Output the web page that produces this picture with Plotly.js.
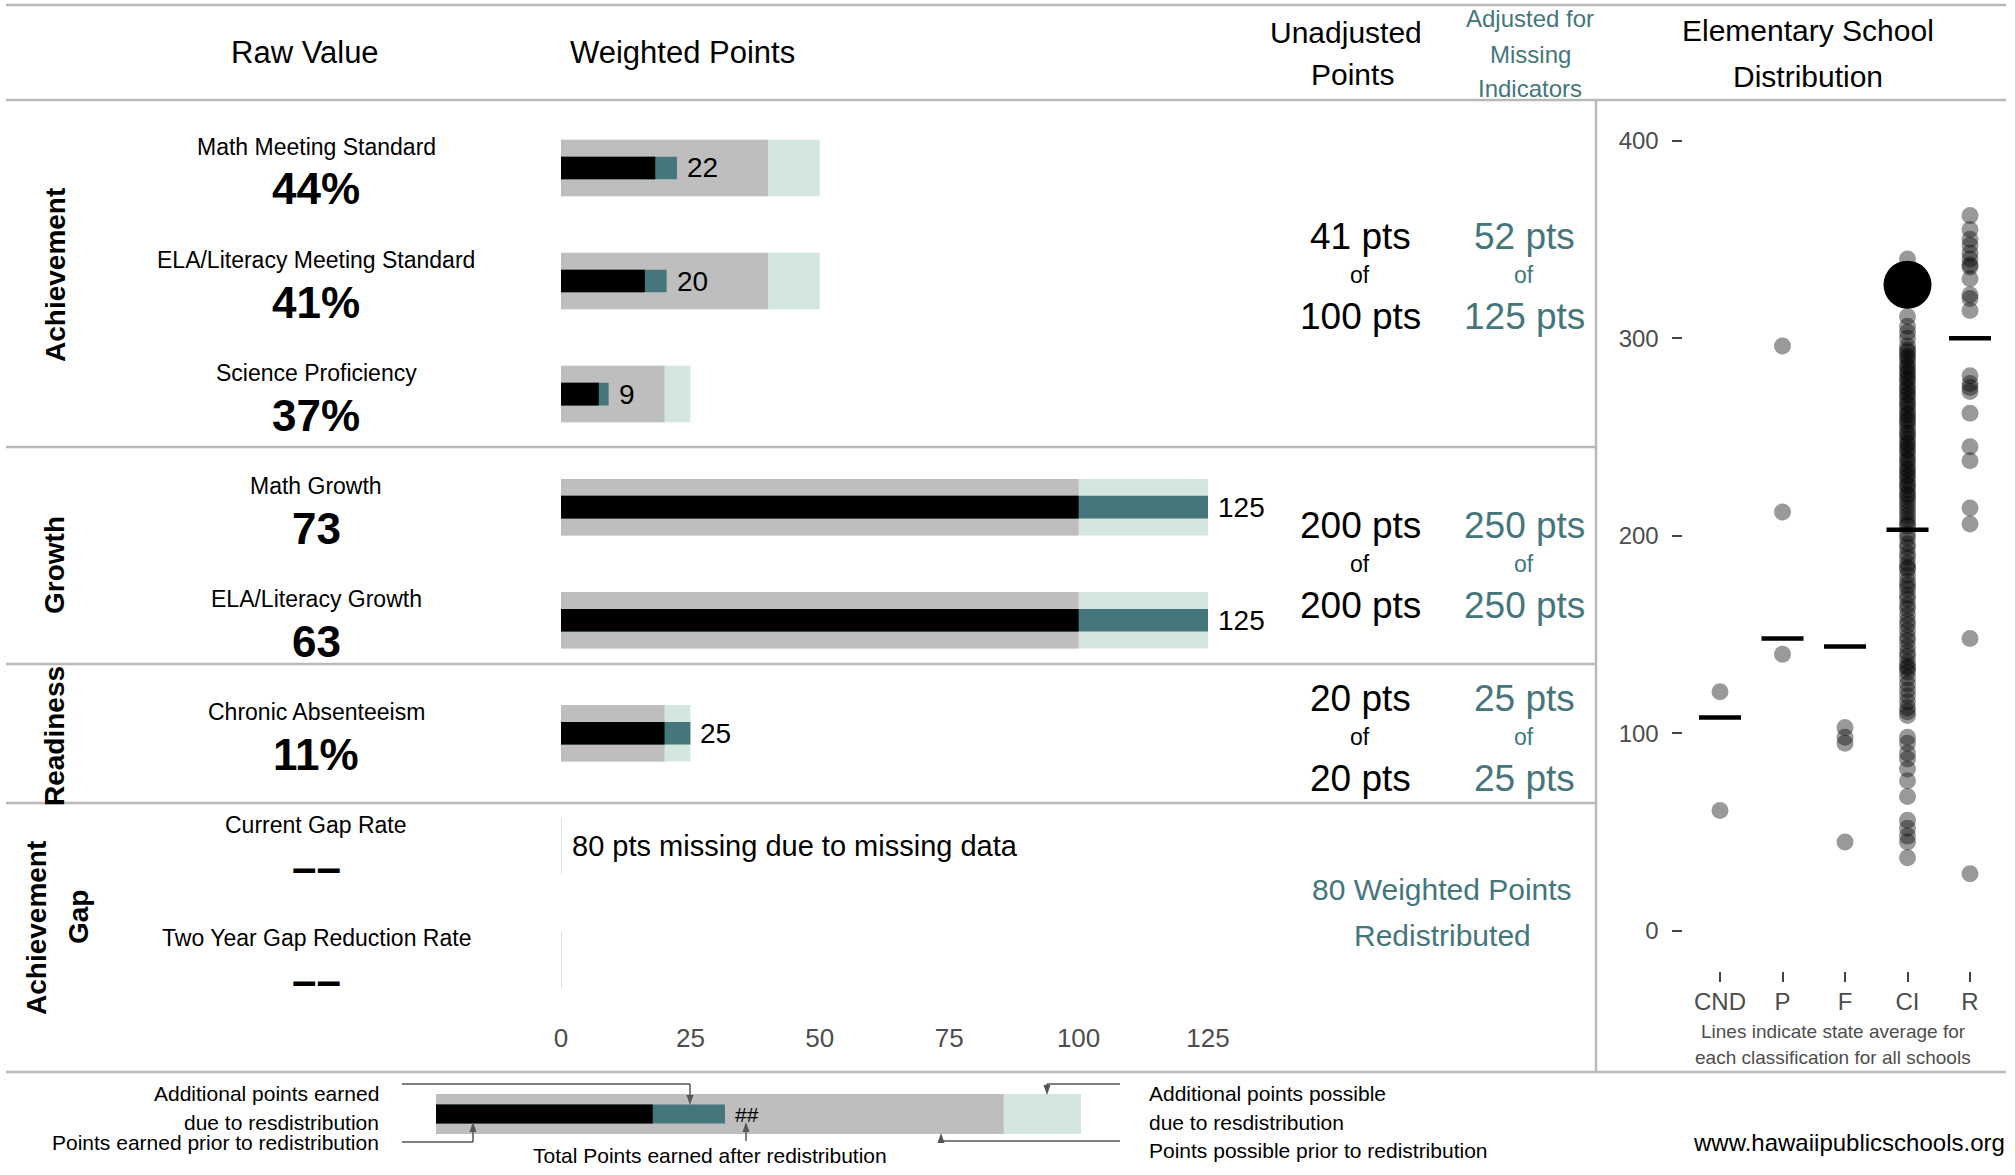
<!DOCTYPE html>
<html>
<head>
<meta charset="utf-8">
<script src="https://cdn.plot.ly/plotly-3.0.1.min.js"></script>
<style>html,body{margin:0;padding:0;background:#fff;}#chart{width:2015px;height:1175px;}</style>
</head>
<body>
<div id="chart"></div>
<script>
// ---------------- DATA ----------------
const rows = ['Math Meeting Standard','ELA/Literacy Meeting Standard','Science Proficiency','Math Growth','ELA/Literacy Growth','Chronic Absenteeism','Current Gap Rate','Two Year Gap Reduction Rate'];
const rawValues = ['44%','41%','37%','73','63','11%','––','––'];
const earnedPrior   = [18.2, 16.2, 7.3, 100, 100, 20, 0, 0];
const earnedAfter   = [22.4, 20.4, 9.2, 125, 125, 25, 0, 0];
const possiblePrior = [40, 40, 20, 100, 100, 20, 0, 0];
const possibleAfter = [50, 50, 25, 125, 125, 25, 0, 0];
const barLabels = ['22','20','9','125','125','25','',''];
const xTicks = [0, 25, 50, 75, 100, 125];

const sections = ['Achievement','Growth','Readiness'];
const unadjEarned   = ['41 pts','200 pts','20 pts'];
const unadjPossible = ['100 pts','200 pts','20 pts'];
const adjEarned     = ['52 pts','250 pts','25 pts'];
const adjPossible   = ['125 pts','250 pts','25 pts'];
const missingText = '80 pts missing due to missing data';
const redistributedText = ['80 Weighted Points','Redistributed'];

const keyEarnedPrior = [42];
const keyEarnedAfter = [56];
const keyPossiblePrior = [110];
const keyPossibleAfter = [125];
const keyLabel = ['##'];

const distCategories = ['CND','P','F','CI','R'];
const cndScores = [121, 61];
const pScores = [296, 212, 140];
const fScores = [103, 98, 95, 45];
const ciScores = [340, 311, 306, 303, 300,
  296, 294, 293, 291, 290, 288, 286, 285, 283, 282, 280, 279, 277, 275, 274, 272, 271, 269, 267, 266,
  264, 262, 261, 259, 258, 256, 254, 252, 251, 249, 247, 246, 244, 243, 241, 239, 238, 236, 234, 233,
  231, 230, 228, 226, 225, 223, 221, 220, 218, 216, 214, 212, 210, 208, 206, 205, 201, 199, 196, 194,
  191, 189, 186, 184, 183, 180, 177, 175, 173, 170, 168, 165, 163, 160, 157, 155, 152, 149, 147, 144,
  141, 139, 136, 134, 133, 131, 128, 125, 122, 119, 116, 113, 111, 109,
  98, 95, 90, 87, 82, 76, 68, 56, 52, 48, 45, 37];
const rScores = [362, 355, 350, 347, 343, 340, 337, 336, 330, 322, 320, 314, 281, 277, 275, 273, 262, 245, 238, 214, 206, 148, 29];
const stateAverages = [108, 148, 144, 203, 300];
const schoolCategory = ['CI'];
const schoolScore = [327];
const distTicks = [0, 100, 200, 300, 400];

// ---------------- HELPERS ----------------
const W = 2015, H = 1175;
const px = x => x / W;
const py = y => 1 - y / H;
const FONT = 'Liberation Sans, Arial, Helvetica, sans-serif';
const TEAL = '#44767b';
const LIGHT = '#d3e7e0';
const GRAY = '#bebebe';
const SEP = '#b9b9b9';

const rowIdx = rows.map((_, i) => i);

const traces = [];
function barSet(vals, width, color, xa, ya, yv) {
  return {type: 'bar', orientation: 'h', x: vals, y: yv, width: yv.map(() => width),
    marker: {color: color, line: {width: 0}}, xaxis: xa, yaxis: ya, hoverinfo: 'skip'};
}
traces.push(barSet(possibleAfter, 0.5, LIGHT, 'x', 'y', rowIdx));
traces.push(barSet(possiblePrior, 0.5, GRAY, 'x', 'y', rowIdx));
traces.push(barSet(earnedAfter, 0.2, TEAL, 'x', 'y', rowIdx));
traces.push(barSet(earnedPrior, 0.2, '#000000', 'x', 'y', rowIdx));

// zero-possible rows: thin marker line at the origin
const zx = [], zy = [];
rowIdx.forEach(i => { if (possibleAfter[i] === 0) { zx.push(possibleAfter[i], possibleAfter[i], null); zy.push(i - 0.25, i + 0.25, null); } });
traces.push({type: 'scatter', mode: 'lines', x: zx, y: zy, line: {color: LIGHT, width: 2}, xaxis: 'x', yaxis: 'y', hoverinfo: 'skip'});

// key bars
traces.push(barSet(keyPossibleAfter, 0.5, LIGHT, 'x3', 'y3', [0]));
traces.push(barSet(keyPossiblePrior, 0.5, GRAY, 'x3', 'y3', [0]));
traces.push(barSet(keyEarnedAfter, 0.24, TEAL, 'x3', 'y3', [0]));
traces.push(barSet(keyEarnedPrior, 0.24, '#000000', 'x3', 'y3', [0]));

// distribution
const allScores = [cndScores, pScores, fScores, ciScores, rScores];
const dx = [], dy = [];
allScores.forEach((arr, k) => arr.forEach(v => { dx.push(distCategories[k]); dy.push(v); }));
traces.push({type: 'scatter', mode: 'markers', x: dx, y: dy, xaxis: 'x2', yaxis: 'y2',
  marker: {size: 17, color: 'rgba(0,0,0,0.4)', line: {width: 0}}, hoverinfo: 'skip', cliponaxis: false});
traces.push({type: 'scatter', mode: 'markers', x: distCategories, y: stateAverages, xaxis: 'x2', yaxis: 'y2',
  marker: {symbol: 'line-ew', size: 30, color: '#000', line: {width: 4.5, color: '#000'}}, hoverinfo: 'skip', cliponaxis: false});
traces.push({type: 'scatter', mode: 'markers', x: schoolCategory, y: schoolScore, xaxis: 'x2', yaxis: 'y2',
  marker: {size: 48, color: '#000', line: {width: 0}}, hoverinfo: 'skip', cliponaxis: false});

// ---------------- ANNOTATIONS ----------------
const ann = [];
function T(text, x, y, size, opts) {
  const o = Object.assign({text: text, x: px(x), y: py(y), xref: 'paper', yref: 'paper', showarrow: false,
    xanchor: 'center', yanchor: 'middle', font: {family: FONT, size: size, color: '#000'}}, opts || {});
  if (opts && opts.color) { o.font.color = opts.color; delete o.color; }
  if (opts && opts.bold) { o.font.weight = 'bold'; delete o.bold; }
  ann.push(o);
}
// headers
T('Raw Value', 305, 53, 31);
T('Weighted Points', 682, 53, 31);
T('Unadjusted', 1346, 32, 30);
T('Points', 1352, 75, 30);
T('Adjusted for', 1530, 19, 24, {color: TEAL});
T('Missing', 1530, 54, 24, {color: TEAL});
T('Indicators', 1530, 88, 24, {color: TEAL});
T('Elementary School', 1808, 31, 30);
T('Distribution', 1808, 77, 30);

// section labels
T(sections[0], 55, 275, 28, {textangle: -90, bold: true});
T(sections[1], 55, 565, 28, {textangle: -90, bold: true});
T(sections[2], 55, 736, 28, {textangle: -90, bold: true});
T('Achievement', 36, 928, 28, {textangle: -90, bold: true});
T('Gap', 78, 917, 28, {textangle: -90, bold: true});

// row labels and raw values
rows.forEach((r, i) => {
  ann.push({text: r, x: px(316), xref: 'paper', y: i, yref: 'y', yshift: 21, showarrow: false,
    xanchor: 'center', yanchor: 'middle', font: {family: FONT, size: 23, color: '#000'}});
  ann.push({text: rawValues[i], x: px(316), xref: 'paper', y: i, yref: 'y', yshift: -21, showarrow: false,
    xanchor: 'center', yanchor: 'middle', font: {family: FONT, size: 44, color: '#000', weight: 'bold'}});
  if (barLabels[i]) {
    ann.push({text: barLabels[i], x: earnedAfter[i], xref: 'x', y: i, yref: 'y', xshift: 8, showarrow: false,
      xanchor: 'left', yanchor: 'middle', font: {family: FONT, size: 28, color: '#000'}});
  }
});
ann.push({text: missingText, x: px(570), xref: 'paper', y: 6, yref: 'y', showarrow: false,
  xanchor: 'left', yanchor: 'middle', font: {family: FONT, size: 29, color: '#000'}});

// section totals
const totY = [[236, 275, 316], [525, 564, 605], [698, 737, 778]];
totY.forEach((ys, k) => {
  T(unadjEarned[k], 1360, ys[0], 37);
  T('of', 1360, ys[1], 23);
  T(unadjPossible[k], 1360, ys[2], 37);
  T(adjEarned[k], 1524, ys[0], 37, {color: TEAL});
  T('of', 1524, ys[1], 23, {color: TEAL});
  T(adjPossible[k], 1524, ys[2], 37, {color: TEAL});
});
T(redistributedText[0], 1442, 889, 30, {color: TEAL});
T(redistributedText[1], 1442, 935, 30, {color: TEAL});

// distribution caption
T('Lines indicate state average for', 1833, 1031, 19, {color: '#4d4d4d'});
T('each classification for all schools', 1833, 1057, 19, {color: '#4d4d4d'});

// key
ann.push({text: keyLabel[0], x: keyEarnedAfter[0], xref: 'x3', y: 0, yref: 'y3', xshift: 8, showarrow: false,
  xanchor: 'left', yanchor: 'middle', font: {family: FONT, size: 21, color: '#000'}});
T('Additional points earned', 381, 1093, 21, {xanchor: 'right'});
T('due to resdistribution', 381, 1122, 21, {xanchor: 'right'});
T('Points earned prior to redistribution', 381, 1142, 21, {xanchor: 'right'});
T('Total Points earned after redistribution', 710, 1155, 21);
T('Additional points possible', 1147, 1093, 21, {xanchor: 'left'});
T('due to resdistribution', 1147, 1122, 21, {xanchor: 'left'});
T('Points possible prior to redistribution', 1147, 1150, 21, {xanchor: 'left'});
T('www.hawaiipublicschools.org', 2007, 1142, 24, {xanchor: 'right'});

// ---------------- SHAPES ----------------
const shapes = [];
function L(x0, y0, x1, y1, color, width) {
  shapes.push({type: 'line', xref: 'paper', yref: 'paper', x0: px(x0), y0: py(y0), x1: px(x1), y1: py(y1),
    line: {color: color, width: width}});
}
function head(x, y, dir) { // arrowhead tip at (x,y)
  const s = 7, h = 10;
  const d = dir === 'down' ? -1 : 1;
  const p = `M ${px(x)} ${py(y)} L ${px(x - s/2)} ${py(y + d*h)} L ${px(x + s/2)} ${py(y + d*h)} Z`;
  shapes.push({type: 'path', xref: 'paper', yref: 'paper', path: p, fillcolor: '#555', line: {width: 0}});
}
// separators
L(6, 5, 2006, 5, SEP, 2.5);
L(6, 100, 2006, 100, SEP, 2.5);
L(6, 447, 1597, 447, SEP, 2.5);
L(6, 664, 1597, 664, SEP, 2.5);
L(6, 803, 1597, 803, SEP, 2.5);
L(6, 1072, 2006, 1072, SEP, 2.5);
L(1596, 100, 1596, 1072, SEP, 2.5);

// key arrows
const AC = '#555';
L(402, 1084, 690, 1084, AC, 1.5); L(690, 1084, 690, 1097, AC, 1.5); head(690, 1105, 'down');
L(402, 1142, 473, 1142, AC, 1.5); L(473, 1142, 473, 1130, AC, 1.5); head(473, 1122, 'up');
L(746, 1141, 746, 1131, AC, 1.5); head(746, 1122, 'up');
L(1120, 1084, 1047, 1084, AC, 1.5); L(1047, 1084, 1047, 1087, AC, 1.5); head(1047, 1095, 'down');
L(1120, 1141, 941, 1141, AC, 1.5); L(941, 1141, 941, 1140, AC, 1.5); head(941, 1133, 'up');

// ---------------- LAYOUT ----------------
const mainX0 = 561, unit = (1208 - 561) / 125;
const layout = {
  width: W, height: H, margin: {l: 0, r: 0, t: 0, b: 0}, paper_bgcolor: '#fff', plot_bgcolor: 'rgba(0,0,0,0)',
  showlegend: false, barmode: 'overlay', hovermode: false, font: {family: FONT},
  xaxis: {domain: [px(mainX0), px(mainX0 + unit * 140)], range: [0, 140], tickvals: xTicks, ticktext: xTicks.map(String),
    showgrid: false, zeroline: false, showline: false, ticks: 'outside', ticklen: 6, tickcolor: 'rgba(0,0,0,0)',
    ticklabelstandoff: -7,
    tickfont: {family: FONT, size: 26, color: '#4d4d4d'}, anchor: 'y', fixedrange: true},
  yaxis: {domain: [py(1016), py(111.4)], range: [7.5, -0.5], visible: false, showgrid: false, zeroline: false, anchor: 'x', fixedrange: true},
  xaxis2: {domain: [px(1682.5), px(2007.5)], type: 'category', categoryorder: 'array', categoryarray: distCategories,
    range: [-0.6, 4.6], showgrid: false, zeroline: false, showline: false, ticks: 'outside', ticklen: 10, tickwidth: 2,
    tickcolor: '#444', tickfont: {family: FONT, size: 24, color: '#4d4d4d'}, anchor: 'y2', fixedrange: true},
  yaxis2: {domain: [py(970.5), py(101)], range: [-20, 420], tickvals: distTicks, showgrid: false, zeroline: false,
    showline: false, ticks: 'outside', ticklen: 10, tickwidth: 2, tickcolor: '#444', ticklabelstandoff: 8,
    tickfont: {family: FONT, size: 24, color: '#4d4d4d'}, anchor: 'x2', fixedrange: true},
  xaxis3: {domain: [px(436), px(1081)], range: [0, 125], visible: false, showgrid: false, zeroline: false, anchor: 'y3', fixedrange: true},
  yaxis3: {domain: [py(1154), py(1074)], range: [-0.5, 0.5], visible: false, showgrid: false, zeroline: false, anchor: 'x3', fixedrange: true},
  annotations: ann, shapes: shapes
};
Plotly.newPlot('chart', traces, layout, {staticPlot: true, displayModeBar: false});
</script>
</body>
</html>
